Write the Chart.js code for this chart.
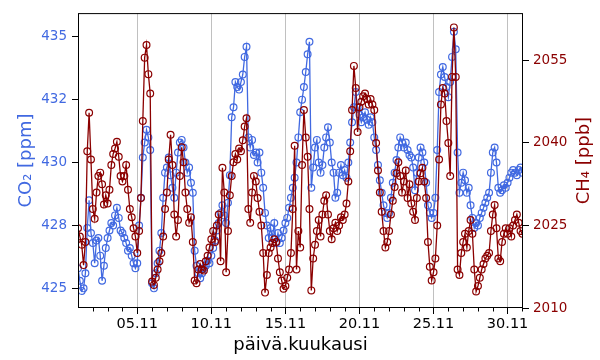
<!DOCTYPE html>
<html>
<head>
<meta charset="utf-8">
<script src="https://cdn.jsdelivr.net/npm/chart.js@4"></script>
<style>
    html, body { margin: 0; padding: 0; background: #fff; }
    canvas { display: block; }
</style>
</head>
<body>
<canvas id="chart" width="600" height="360" style="width:600px;height:360px"></canvas>
<script>
(function () {

    // samples every 3 h, starting 01.11 00:00 (day value 1.0)
    const startDay = 1;
    const stepDays = 3 / 24;

    const co2 = [
        425.8, 425.3, 424.9, 425.0, 425.6, 427.4, 428.5, 427.2,
        426.8, 426.0, 426.9, 427.0, 426.3, 425.3, 425.9, 426.6,
        427.0, 427.3, 427.6, 427.5, 427.9, 428.2, 427.8, 427.3,
        427.2, 427.0, 426.8, 426.5, 426.6, 426.3, 426.0, 425.8,
        426.0, 427.5, 428.6, 430.2, 430.8, 431.3, 431.0, 430.5,
        425.2, 425.0, 425.6, 426.0, 426.5, 427.2, 428.6, 429.6,
        429.8, 430.2, 429.5, 429.0, 428.6, 429.6, 430.4, 430.8,
        430.9, 430.6, 430.0, 429.6, 429.8, 429.2, 428.8, 426.5,
        425.9, 425.6, 425.4, 425.6, 425.8, 425.9, 426.1, 426.0,
        426.3, 426.6, 426.9, 427.3, 427.6, 428.0, 428.3, 427.9,
        427.6, 428.4, 429.5, 431.8, 432.2, 433.2, 433.0, 432.9,
        433.2, 433.5, 434.2, 434.6, 431.0, 430.6, 430.9, 430.3,
        430.4, 430.0, 430.4, 429.6, 429.0, 428.0, 427.5, 427.0,
        427.4, 427.0, 427.6, 426.8, 427.2, 426.8, 427.0, 427.3,
        427.6, 427.8, 428.2, 428.6, 429.0, 429.4, 430.0, 431.0,
        432.0, 432.5, 433.0, 433.6, 434.3, 434.8, 429.0, 429.8,
        430.6, 430.9, 430.0, 429.6, 429.9, 430.6, 431.0, 431.4,
        430.8, 430.0, 429.6, 428.6, 428.8, 429.6, 429.9, 429.5,
        429.7, 429.4, 430.0, 430.8, 431.6, 432.2, 432.8, 432.2,
        431.9, 431.6, 431.8, 432.0, 431.7, 431.5, 431.8, 431.6,
        431.0, 430.5, 429.9, 429.3, 428.8, 428.3, 428.0, 427.8,
        428.0, 428.6, 429.2, 429.6, 430.1, 430.6, 431.0, 430.8,
        430.6, 430.8, 430.5, 430.3, 430.2, 429.8, 428.9, 429.6,
        430.2, 430.6, 430.4, 430.0, 429.2, 428.3, 428.0, 427.8,
        428.0, 428.6, 430.5, 432.8, 433.5, 433.8, 433.4, 433.0,
        432.6, 433.2, 434.2, 435.2, 434.5, 430.4, 428.8, 429.2,
        429.6, 429.3, 428.8, 429.0, 428.3, 427.8, 427.4, 427.6,
        427.5, 427.8, 428.0, 428.2, 428.4, 428.6, 428.8, 429.6,
        430.4, 430.6, 430.0, 429.0, 428.8, 428.9, 429.1, 429.0,
        429.2, 429.4, 429.6, 429.7, 429.6, 429.5, 429.7, 429.8,
        429.6
    ];

    const ch4 = [
        2024.5, 2023.0, 2021.5, 2017.8, 2022.0, 2038.5, 2045.5, 2037.0,
        2028.0, 2026.2, 2031.0, 2034.0, 2034.6, 2032.5, 2028.8, 2030.5,
        2029.0, 2031.5, 2036.0, 2038.0, 2039.0, 2040.2, 2037.5, 2034.0,
        2033.0, 2034.0, 2036.0, 2031.5, 2028.0, 2026.5, 2024.5, 2023.0,
        2020.0, 2024.0, 2030.0, 2044.0, 2055.5, 2057.8, 2052.5, 2049.0,
        2014.8, 2014.2, 2015.5, 2017.0, 2018.5, 2020.0, 2023.0, 2028.0,
        2031.0, 2037.0, 2041.5, 2036.0, 2027.0, 2023.0, 2026.0, 2034.0,
        2039.2, 2036.5, 2031.0, 2028.0, 2025.5, 2026.5, 2022.0, 2015.0,
        2014.5, 2017.0, 2018.0, 2017.0, 2016.8, 2018.5, 2019.5, 2021.0,
        2022.5, 2024.0, 2022.0, 2025.0, 2027.0, 2018.5, 2035.5, 2031.0,
        2016.5, 2024.0, 2030.5, 2034.0, 2036.5, 2038.0, 2037.0, 2039.0,
        2038.5, 2040.5, 2043.0, 2044.5, 2028.0, 2025.5, 2031.0, 2034.0,
        2033.0, 2030.0, 2027.5, 2025.0, 2020.0, 2012.8, 2016.0, 2020.0,
        2021.0, 2021.8, 2022.5, 2022.0, 2019.0, 2016.5, 2015.0, 2013.5,
        2014.0, 2015.5, 2017.0, 2020.0, 2028.0, 2039.5, 2017.0, 2024.0,
        2021.0, 2036.0, 2046.0, 2041.0, 2037.5, 2028.0, 2013.2, 2019.0,
        2021.5, 2024.0, 2026.0, 2023.0, 2027.0, 2029.5, 2030.5, 2027.0,
        2024.0, 2022.5, 2024.5, 2025.5, 2024.0, 2025.0, 2026.5, 2026.0,
        2027.0, 2029.0, 2033.0, 2038.5, 2046.0, 2054.0, 2050.0, 2042.0,
        2046.5, 2047.5, 2048.5, 2049.0, 2048.0, 2047.0, 2048.0, 2047.0,
        2046.0, 2040.0, 2035.0, 2031.0, 2027.5, 2024.0, 2021.0, 2022.0,
        2024.0, 2027.0, 2029.5, 2032.0, 2034.5, 2036.5, 2034.0, 2031.0,
        2033.0, 2035.0, 2030.0, 2032.5, 2029.0, 2027.5, 2026.0, 2030.0,
        2033.0, 2034.5, 2035.5, 2033.0, 2030.0, 2022.0, 2017.5, 2015.0,
        2016.5, 2019.0, 2025.0, 2037.0, 2047.0, 2050.0, 2049.0, 2044.0,
        2040.0, 2034.0, 2052.0, 2061.0, 2052.0, 2017.0, 2016.0, 2020.0,
        2022.0, 2023.5, 2021.0, 2024.0, 2026.0, 2023.5, 2017.0, 2013.0,
        2014.0, 2015.5, 2017.0, 2018.0, 2019.0, 2019.5, 2020.0, 2024.0,
        2027.0, 2028.7, 2024.5, 2019.0, 2018.5, 2022.0, 2023.5, 2024.5,
        2023.5, 2024.5, 2023.0, 2025.0, 2026.0, 2027.0, 2025.5, 2024.0,
        2023.5
    ];

    const dayTicks = [5, 10, 15, 20, 25, 30];
    const co2Ticks = [425, 427.5, 430, 432.5, 435];
    const co2TickLabels = ['425', '428', '430', '432', '435'];
    const ch4Ticks = [2010, 2025, 2040, 2055];

    const co2Color = '#4169e1';
    const ch4Color = '#8b0000';
    const fontFamily = '"DejaVu Sans", sans-serif';

    function toPoints(values) {
        return values.map((v, i) => ({ x: startDay + i * stepDays, y: v }));
    }

    function setTicks(list) {
        return function (scale) {
            scale.ticks = list.map(v => ({ value: v }));
        };
    }

    function drawVerticalTitle(ctx, text, x, y, color) {
        ctx.save();
        ctx.translate(x, y);
        ctx.rotate(-Math.PI / 2);
        ctx.fillStyle = color;
        ctx.font = '18px ' + fontFamily;
        ctx.textAlign = 'center';
        ctx.textBaseline = 'alphabetic';
        ctx.fillText(text, 0, 0);
        ctx.restore();
    }

    const extras = {
        id: 'extras',
        afterDatasetsDraw(chart) {
            const ctx = chart.ctx;
            const a = chart.chartArea;
            const xs = chart.scales.x;
            ctx.save();
            ctx.strokeStyle = '#000';
            ctx.lineWidth = 1;
            ctx.strokeRect(a.left + 0.5, a.top + 0.5, a.right - a.left - 1, a.bottom - a.top - 1);

            // daily minor ticks
            ctx.beginPath();
            for (let d = 2; d <= 31; d++) {
                if (d % 5 === 0) continue;
                const px = Math.round(xs.getPixelForValue(d)) + 0.5;
                ctx.moveTo(px, a.bottom);
                ctx.lineTo(px, a.bottom + 3.5);
            }
            ctx.stroke();
            ctx.restore();

            const midY = (a.top + a.bottom) / 2;
            drawVerticalTitle(ctx, 'CO₂ [ppm]', 30.5, midY, co2Color);
            drawVerticalTitle(ctx, 'CH₄ [ppb]', 588.5, midY, ch4Color);
        }
    };

    const ctx = document.getElementById('chart').getContext('2d');

    new Chart(ctx, {
        type: 'line',
        data: {
            datasets: [
                {
                    label: 'CO2',
                    data: toPoints(co2),
                    yAxisID: 'y',
                    order: 1,
                    borderColor: co2Color,
                    borderWidth: 1.3,
                    pointRadius: 3.4,
                    pointBorderWidth: 1.2,
                    pointBorderColor: co2Color,
                    pointBackgroundColor: 'rgba(255,255,255,0)',
                    tension: 0,
                    clip: 0
                },
                {
                    label: 'CH4',
                    data: toPoints(ch4),
                    yAxisID: 'y2',
                    order: 0,
                    borderColor: ch4Color,
                    borderWidth: 1.3,
                    pointRadius: 3.4,
                    pointBorderWidth: 1.2,
                    pointBorderColor: ch4Color,
                    pointBackgroundColor: 'rgba(255,255,255,0)',
                    tension: 0,
                    clip: 0
                }
            ]
        },
        options: {
            responsive: false,
            animation: false,
            devicePixelRatio: 1,
            layout: { padding: { top: 8, left: 0, right: 0, bottom: 0 } },
            plugins: {
                legend: { display: false },
                tooltip: { enabled: false }
            },
            scales: {
                x: {
                    type: 'linear',
                    min: 1,
                    max: 31.04,
                    afterBuildTicks: setTicks(dayTicks),
                    afterFit(scale) { scale.height = 52; },
                    grid: {
                        color: '#b0b0b0',
                        lineWidth: 0.8,
                        tickColor: '#000',
                        tickLength: 6,
                        tickWidth: 1
                    },
                    border: { display: false },
                    ticks: {
                        color: '#000',
                        font: { family: fontFamily, size: 14.5 },
                        padding: 2,
                        maxRotation: 0,
                        autoSkip: false,
                        callback: v => String(v).padStart(2, '0') + '.11'
                    },
                    title: {
                        display: true,
                        text: 'päivä.kuukausi',
                        color: '#000',
                        font: { family: fontFamily, size: 18 },
                        padding: { top: 0, bottom: 4 }
                    }
                },
                y: {
                    position: 'left',
                    min: 424.22,
                    max: 435.94,
                    afterBuildTicks: setTicks(co2Ticks),
                    afterFit(scale) { scale.width = 78; },
                    grid: {
                        drawOnChartArea: false,
                        tickColor: '#000',
                        tickLength: 6,
                        tickWidth: 1
                    },
                    border: { display: false },
                    ticks: {
                        color: co2Color,
                        font: { family: fontFamily, size: 13.5 },
                        padding: 5,
                        autoSkip: false,
                        callback: v => co2TickLabels[co2Ticks.indexOf(v)]
                    }
                },
                y2: {
                    position: 'right',
                    min: 2010,
                    max: 2063.6,
                    afterBuildTicks: setTicks(ch4Ticks),
                    afterFit(scale) { scale.width = 77; },
                    grid: {
                        drawOnChartArea: false,
                        tickColor: '#000',
                        tickLength: 6,
                        tickWidth: 1
                    },
                    border: { display: false },
                    ticks: {
                        color: ch4Color,
                        font: { family: fontFamily, size: 13.5 },
                        padding: 4,
                        autoSkip: false,
                        callback: v => String(v)
                    }
                }
            }
        },
        plugins: [extras]
    });
})();
</script>
</body>
</html>
